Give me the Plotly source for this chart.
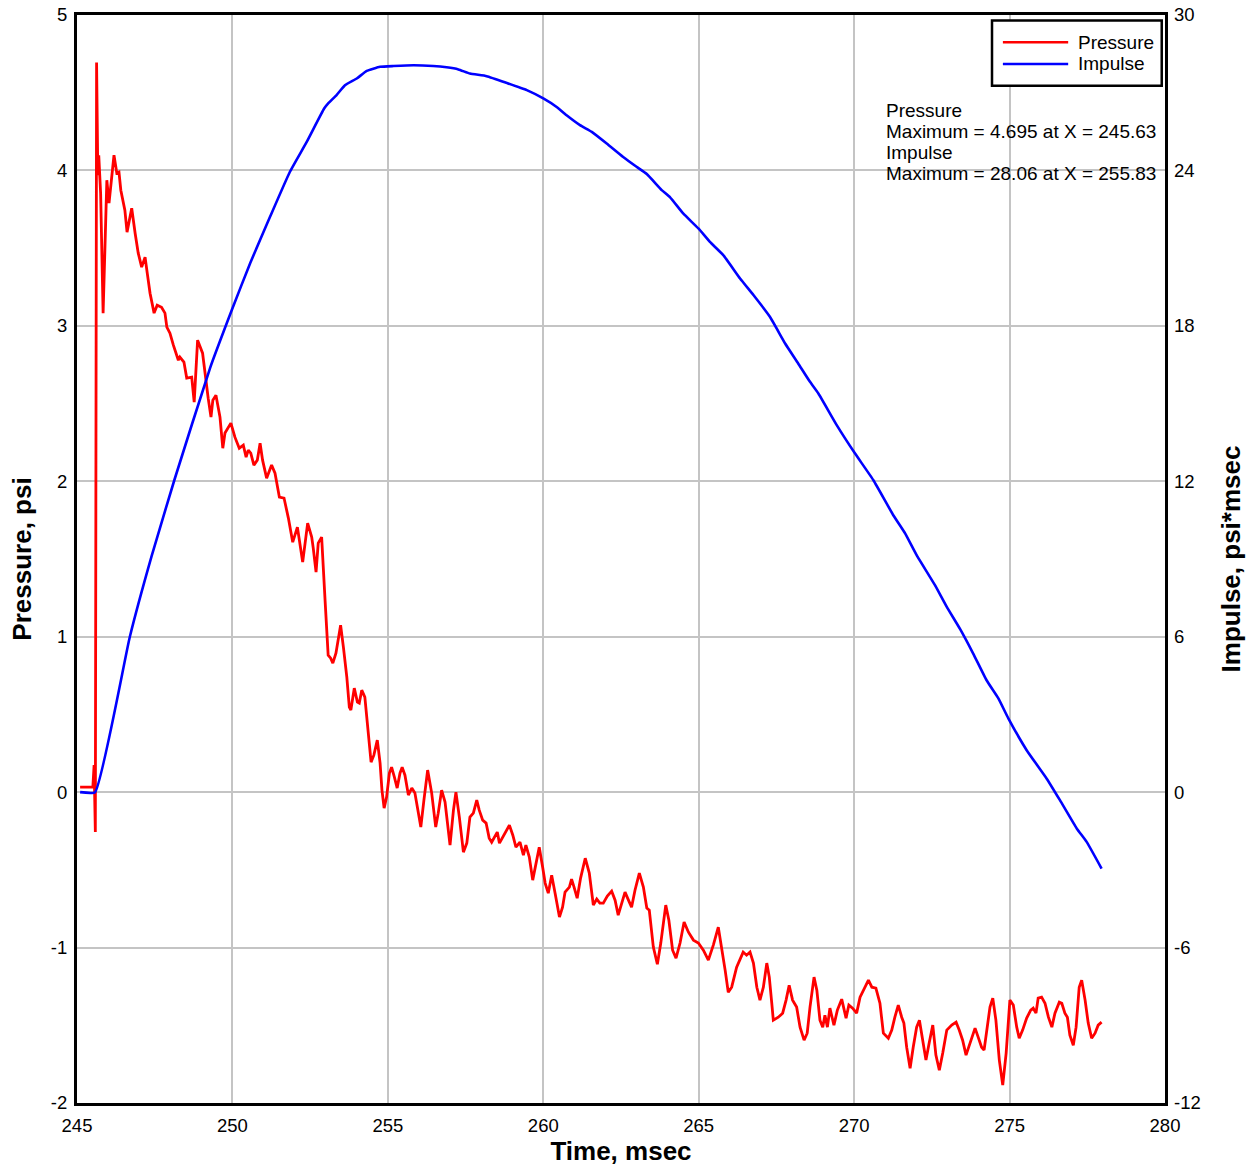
import plotly.graph_objects as go

# Pressure trace (psi) versus time (msec)
time_p = [245.10, 245.51, 245.55, 245.59, 245.63, 245.67, 245.70, 245.73, 245.76, 245.84,
          245.96, 246.03, 246.12, 246.19, 246.28, 246.35, 246.41, 246.54, 246.61, 246.76,
          246.87, 246.97, 247.08, 247.19, 247.26, 247.35, 247.48, 247.58, 247.72, 247.83,
          247.89, 247.99, 248.10, 248.26, 248.31, 248.44, 248.53, 248.69, 248.77, 248.88,
          249.04, 249.15, 249.22, 249.31, 249.37, 249.47, 249.60, 249.69, 249.76, 249.95,
          250.08, 250.22, 250.35, 250.44, 250.51, 250.59, 250.69, 250.80, 250.89, 250.97,
          251.10, 251.26, 251.37, 251.51, 251.66, 251.80, 251.94, 252.09, 252.26, 252.42,
          252.55, 252.60, 252.69, 252.76, 252.87, 252.98, 253.08, 253.16, 253.23, 253.33,
          253.41, 253.48, 253.57, 253.68, 253.76, 253.81, 253.92, 254.02, 254.08, 254.16,
          254.26, 254.35, 254.46, 254.55, 254.66, 254.75, 254.81, 254.88, 254.96, 255.05,
          255.12, 255.21, 255.30, 255.39, 255.46, 255.55, 255.66, 255.77, 255.87, 255.95,
          256.06, 256.16, 256.28, 256.41, 256.54, 256.62, 256.73, 256.84, 257.00, 257.11,
          257.19, 257.30, 257.43, 257.54, 257.64, 257.75, 257.86, 257.94, 258.05, 258.16,
          258.26, 258.34, 258.45, 258.52, 258.59, 258.69, 258.80, 258.91, 259.02, 259.12,
          259.25, 259.36, 259.44, 259.55, 259.66, 259.77, 259.87, 259.98, 260.06, 260.16,
          260.27, 260.38, 260.52, 260.62, 260.70, 260.84, 260.91, 260.99, 261.09, 261.20,
          261.35, 261.48, 261.61, 261.72, 261.82, 261.93, 262.06, 262.20, 262.31, 262.41,
          262.52, 262.63, 262.74, 262.84, 262.95, 263.09, 263.22, 263.33, 263.41, 263.54,
          263.67, 263.78, 263.94, 264.04, 264.16, 264.27, 264.40, 264.53, 264.67, 264.83,
          264.99, 265.15, 265.31, 265.47, 265.63, 265.74, 265.85, 265.95, 266.06, 266.22,
          266.43, 266.54, 266.65, 266.76, 266.87, 266.97, 267.08, 267.19, 267.27, 267.35,
          267.40, 267.56, 267.70, 267.81, 267.91, 268.02, 268.15, 268.26, 268.39, 268.49,
          268.58, 268.71, 268.80, 268.90, 268.99, 269.06, 269.14, 269.22, 269.35, 269.46,
          269.60, 269.74, 269.83, 269.95, 270.08, 270.19, 270.35, 270.46, 270.57, 270.70,
          270.83, 270.94, 271.10, 271.21, 271.31, 271.42, 271.53, 271.60, 271.69, 271.80,
          271.90, 272.01, 272.10, 272.19, 272.31, 272.42, 272.53, 272.63, 272.74, 272.85,
          272.98, 273.14, 273.28, 273.38, 273.49, 273.60, 273.70, 273.81, 273.89, 273.99,
          274.10, 274.18, 274.28, 274.37, 274.46, 274.56, 274.67, 274.78, 274.89, 275.01,
          275.12, 275.23, 275.31, 275.42, 275.55, 275.68, 275.76, 275.85, 275.92, 276.03,
          276.14, 276.25, 276.36, 276.46, 276.60, 276.68, 276.78, 276.86, 276.94, 277.05,
          277.14, 277.24, 277.32, 277.43, 277.53, 277.64, 277.75, 277.85, 277.96]

pressure = [0.032, 0.032, 0.174, -0.257, 4.695, 3.970, 4.098, 3.937, 3.853, 3.082,
            3.937, 3.789, 3.983, 4.098, 3.983, 3.989, 3.873, 3.744, 3.603, 3.757,
            3.596, 3.468, 3.378, 3.442, 3.339, 3.210, 3.082, 3.133, 3.120, 3.082,
            2.992, 2.953, 2.876, 2.779, 2.799, 2.767, 2.664, 2.670, 2.509, 2.908,
            2.824, 2.631, 2.535, 2.413, 2.522, 2.554, 2.413, 2.213, 2.310, 2.374,
            2.284, 2.213, 2.233, 2.155, 2.200, 2.181, 2.104, 2.136, 2.245, 2.136,
            2.020, 2.104, 2.052, 1.898, 1.892, 1.763, 1.608, 1.705, 1.480, 1.731,
            1.641, 1.570, 1.415, 1.602, 1.641, 1.235, 0.881, 0.862, 0.830, 0.894,
            0.991, 1.074, 0.933, 0.740, 0.547, 0.528, 0.669, 0.579, 0.573, 0.656,
            0.611, 0.418, 0.193, 0.238, 0.335, 0.187, 0.013, -0.103, -0.032, 0.122,
            0.161, 0.097, 0.026, 0.122, 0.161, 0.109, -0.019, 0.026, -0.006, -0.097,
            -0.225, -0.051, 0.142, -0.006, -0.225, -0.135, 0.013, -0.064, -0.341, -0.116,
            0.000, -0.161, -0.386, -0.328, -0.161, -0.135, -0.051, -0.116, -0.180, -0.199,
            -0.296, -0.322, -0.277, -0.257, -0.328, -0.290, -0.244, -0.212, -0.277, -0.354,
            -0.322, -0.405, -0.341, -0.418, -0.566, -0.457, -0.354, -0.483, -0.585, -0.650,
            -0.534, -0.650, -0.804, -0.740, -0.643, -0.611, -0.560, -0.611, -0.682, -0.553,
            -0.425, -0.521, -0.727, -0.688, -0.714, -0.714, -0.669, -0.637, -0.695, -0.791,
            -0.708, -0.643, -0.695, -0.740, -0.631, -0.521, -0.611, -0.746, -0.759, -0.997,
            -1.107, -0.971, -0.727, -0.824, -1.017, -1.068, -0.971, -0.836, -0.901, -0.952,
            -0.971, -1.017, -1.081, -0.984, -0.869, -0.997, -1.145, -1.287, -1.255, -1.126,
            -1.029, -1.049, -1.029, -1.100, -1.255, -1.338, -1.255, -1.100, -1.190, -1.358,
            -1.467, -1.448, -1.422, -1.338, -1.242, -1.338, -1.383, -1.512, -1.596, -1.551,
            -1.383, -1.190, -1.274, -1.467, -1.512, -1.435, -1.512, -1.390, -1.499, -1.403,
            -1.332, -1.454, -1.370, -1.390, -1.422, -1.319, -1.255, -1.210, -1.255, -1.261,
            -1.358, -1.551, -1.583, -1.531, -1.448, -1.370, -1.448, -1.486, -1.641, -1.776,
            -1.641, -1.512, -1.467, -1.576, -1.724, -1.608, -1.499, -1.692, -1.789, -1.679,
            -1.531, -1.499, -1.480, -1.531, -1.596, -1.692, -1.628, -1.563, -1.518, -1.576,
            -1.641, -1.660, -1.512, -1.383, -1.325, -1.467, -1.724, -1.885, -1.679, -1.338,
            -1.370, -1.512, -1.583, -1.531, -1.454, -1.403, -1.390, -1.422, -1.325, -1.319,
            -1.358, -1.448, -1.512, -1.422, -1.351, -1.358, -1.422, -1.448, -1.563, -1.628,
            -1.512, -1.255, -1.210, -1.338, -1.486, -1.583, -1.551, -1.499, -1.480]

# Impulse trace (psi*msec) versus time (msec)
time_i = [245.10, 245.58, 246.70, 247.40, 248.13, 249.28, 249.98, 250.57, 251.21, 251.85,
          252.39, 252.95, 253.08, 253.35, 253.62, 254.00, 254.32, 254.75, 255.18, 255.83,
          256.46, 256.89, 257.27, 257.64, 258.18, 258.82, 259.47, 260.00, 260.43, 260.75,
          261.18, 261.56, 262.04, 262.57, 263.00, 263.33, 263.81, 264.08, 264.50, 264.99,
          265.36, 265.79, 266.33, 266.76, 267.29, 267.78, 268.20, 268.58, 268.85, 269.44,
          270.03, 270.62, 271.26, 271.64, 272.01, 272.60, 272.98, 273.41, 273.83, 274.26,
          274.64, 274.96, 275.55, 276.19, 276.62, 277.16, 277.48, 277.96]
impulse = [0.00, 0.00, 6.00, 9.11, 12.04, 16.37, 18.61, 20.42, 22.21, 23.95,
           25.10, 26.39, 26.59, 26.91, 27.29, 27.55, 27.84, 28.00, 28.03, 28.06,
           28.03, 27.98, 27.90, 27.74, 27.64, 27.38, 27.10, 26.78, 26.45, 26.13,
           25.75, 25.49, 25.04, 24.52, 24.14, 23.86, 23.24, 22.96, 22.34, 21.76,
           21.24, 20.73, 19.83, 19.19, 18.35, 17.32, 16.55, 15.84, 15.39, 14.17,
           13.07, 12.04, 10.69, 9.99, 9.15, 7.99, 7.15, 6.29, 5.35, 4.32,
           3.62, 2.85, 1.62, 0.53, -0.31, -1.40, -1.92, -2.95]

x_ticks = [245, 250, 255, 260, 265, 270, 275, 280]
p_ticks = [-2, -1, 0, 1, 2, 3, 4, 5]
i_ticks = [-12, -6, 0, 6, 12, 18, 24, 30]

summary_lines = ["Pressure",
                 "Maximum = 4.695 at X = 245.63",
                 "Impulse",
                 "Maximum = 28.06 at X = 255.83"]

FONT = "Arial, 'Liberation Sans', sans-serif"
RED = "#ff0000"
BLUE = "#0000ff"
GRID = "#c4c4c4"
TICK_SIZE = 18.5
TEXT_SIZE = 19
TITLE_SIZE = 26

fig = go.Figure()
fig.add_trace(go.Scatter(x=time_p, y=pressure, mode="lines", name="Pressure",
                         line=dict(color=RED, width=2.8), showlegend=False))
fig.add_trace(go.Scatter(x=time_i, y=impulse, mode="lines", name="Impulse",
                         line=dict(color=BLUE, width=2.6, shape="spline", smoothing=0.4),
                         yaxis="y2", showlegend=False))

fig.update_layout(
    width=1255, height=1168,
    margin=dict(l=77, r=90, t=15, b=65),
    paper_bgcolor="white", plot_bgcolor="white",
    font=dict(family=FONT, size=TEXT_SIZE, color="black"),
    xaxis=dict(range=[245, 280], tickvals=x_ticks, ticktext=[str(v) for v in x_ticks],
               ticks="", showgrid=True, gridcolor=GRID, gridwidth=2, zeroline=False,
               showline=True, linecolor="black", linewidth=3, mirror=True,
               tickfont=dict(size=TICK_SIZE), ticklabelstandoff=4, automargin=False,
               title=dict(text="<b>Time, msec</b>", font=dict(size=TITLE_SIZE), standoff=4)),
    yaxis=dict(range=[-2, 5], tickvals=p_ticks, ticktext=[str(v) for v in p_ticks],
               ticks="", showgrid=True, gridcolor=GRID, gridwidth=2, zeroline=False,
               showline=True, linecolor="black", linewidth=3, mirror=True,
               tickfont=dict(size=TICK_SIZE), ticklabelstandoff=3, automargin=False,
               title=dict(text="<b>Pressure, psi</b>", font=dict(size=TITLE_SIZE), standoff=12)),
    yaxis2=dict(range=[-12, 30], tickvals=i_ticks, ticktext=[str(v) for v in i_ticks],
                ticks="", overlaying="y", side="right", showgrid=False, zeroline=False,
                showline=False, tickfont=dict(size=TICK_SIZE), ticklabelstandoff=8,
                automargin=False,
                title=dict(text="<b>Impulse, psi*msec</b>", font=dict(size=TITLE_SIZE), standoff=22)),
)

# Legend box with line samples
fig.add_shape(type="rect", xref="paper", yref="paper", x0=0.841, x1=0.997, y0=0.935, y1=0.995,
              line=dict(color="black", width=2.5), fillcolor="white", layer="above")
fig.add_shape(type="line", xref="paper", yref="paper", x0=0.851, x1=0.911, y0=0.975, y1=0.975,
              line=dict(color=RED, width=2.5))
fig.add_shape(type="line", xref="paper", yref="paper", x0=0.851, x1=0.911, y0=0.955, y1=0.955,
              line=dict(color=BLUE, width=2.5))
fig.add_annotation(x=0.918, y=0.975, xref="paper", yref="paper", text="Pressure",
                   showarrow=False, xanchor="left", yanchor="middle")
fig.add_annotation(x=0.918, y=0.955, xref="paper", yref="paper", text="Impulse",
                   showarrow=False, xanchor="left", yanchor="middle")

# Maximum summary text, one line per annotation
summary_y = [0.9118, 0.8925, 0.8732, 0.8539]
for line_text, ypos in zip(summary_lines, summary_y):
    fig.add_annotation(x=0.742, y=ypos, xref="paper", yref="paper", text=line_text,
                       showarrow=False, xanchor="left", yanchor="middle")

fig.write_html("out.html")
